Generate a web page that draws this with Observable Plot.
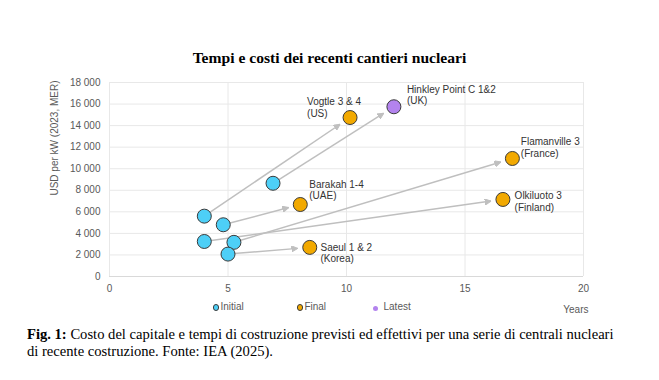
<!DOCTYPE html>
<html>
<head>
<meta charset="utf-8">
<script src="https://cdn.jsdelivr.net/npm/d3@7"></script>
<script src="https://cdn.jsdelivr.net/npm/@observablehq/plot@0.6"></script>
<style>
  html, body { margin: 0; padding: 0; background: #fff; }
  #wrap { position: relative; width: 659px; height: 380px; overflow: hidden; background: #fff; }
  #title { position: absolute; left: 0; top: 48px; width: 659px; text-align: center;
    font: bold 15.6px "Liberation Serif", serif; line-height: 20px; color: #000; }
  #chart { position: absolute; left: 0; top: 70px; }
  .leg { position: absolute; top: 300px; font: 10px "Liberation Sans", Arial, sans-serif; color: #595959; line-height: 14px; white-space: nowrap; }
  .leg i { display: inline-block; width: 5px; height: 5px; border-radius: 50%; margin-right: 1px; vertical-align: -0.5px; }
  #caption { position: absolute; left: 27px; top: 326px; width: 596px;
    font: 14.6px "Liberation Serif", serif; line-height: 17px; color: #000; }
</style>
</head>
<body>
<div id="wrap">
  <div id="title"></div>
  <div id="chart"></div>
  <div id="legend"></div>
  <div id="caption"></div>
</div>
<script>
// ---- data ----
const titleText = "Tempi e costi dei recenti cantieri nucleari";
const projects = ["Vogtle 3 & 4\n(US)", "Hinkley Point C 1&2\n(UK)", "Flamanville 3\n(France)", "Olkiluoto 3\n(Finland)", "Barakah 1-4\n(UAE)", "Saeul 1 & 2\n(Korea)"];
const initialYears = [4.0, 6.9, 5.25, 4.0, 4.8, 5.0];
const initialCost = [5600, 8650, 3170, 3250, 4800, 2080];
const finalYears = [10.15, 12.0, 17.0, 16.6, 8.05, 8.45];
const finalCost = [14750, 15750, 10950, 7150, 6680, 2700];
const finalType = ["Final", "Latest", "Final", "Final", "Final", "Final"];
const legendLabels = ["Initial", "Final", "Latest"];
const xTicks = [0, 5, 10, 15, 20];
const yTicks = [0, 2000, 4000, 6000, 8000, 10000, 12000, 14000, 16000, 18000];
const xLabel = "Years";
const yLabel = "USD per kW (2023, MER)";
const captionBold = "Fig. 1:";
const captionText = " Costo del capitale e tempi di costruzione previsti ed effettivi per una serie di centrali nucleari di recente costruzione. Fonte: IEA (2025).";

// ---- styles ----
const colors = { Initial: "#4dcff7", Final: "#f2a900", Latest: "#b383ee" };
const outline = "#3a3a3a";
const fmt = d => d3.format(",")(d).replace(/,/g, " ");

document.getElementById("title").textContent = titleText;
const cap = document.getElementById("caption");
const b = document.createElement("b"); b.textContent = captionBold;
cap.appendChild(b); cap.appendChild(document.createTextNode(captionText));

// legend
const legendPos = { Initial: 213, Final: 297, Latest: 372 };
const leg = document.getElementById("legend");
legendLabels.forEach(k => {
  const s = document.createElement("span");
  s.className = "leg";
  s.style.left = legendPos[k] + "px";
  const dot = document.createElement("i");
  dot.style.background = colors[k];
  if (k !== "Latest") { dot.style.border = "0.8px solid " + outline; dot.style.width = "4.4px"; dot.style.height = "4.4px"; }
  else { dot.style.marginRight = "6px"; dot.style.marginLeft = "0.5px"; }
  s.appendChild(dot);
  s.appendChild(document.createTextNode(k));
  leg.appendChild(s);
});

const idx = projects.map((_, i) => i);

function triangleMarker(color, context) {
  const doc = context && context.document ? context.document : document;
  const ns = "http://www.w3.org/2000/svg";
  const m = doc.createElementNS(ns, "marker");
  m.setAttribute("viewBox", "0 0 10 10");
  m.setAttribute("refX", "10");
  m.setAttribute("refY", "5");
  m.setAttribute("markerWidth", "4.2");
  m.setAttribute("markerHeight", "4.2");
  m.setAttribute("orient", "auto");
  const p = doc.createElementNS(ns, "path");
  p.setAttribute("d", "M0,0L10,5L0,10z");
  p.setAttribute("fill", color);
  m.appendChild(p);
  return m;
}

const insetEnd = 12;
function shortenEnd(index, scales, values, dimensions, context, next) {
  const { x1, y1, x2, y2 } = values;
  const nx = Float64Array.from(x2), ny = Float64Array.from(y2);
  for (const i of index) {
    const dx = x2[i] - x1[i], dy = y2[i] - y1[i], L = Math.hypot(dx, dy);
    nx[i] = x2[i] - dx / L * insetEnd;
    ny[i] = y2[i] - dy / L * insetEnd;
  }
  return next(index, scales, { ...values, x2: nx, y2: ny }, dimensions, context);
}

// label placement (offsets in px from the final point)
const labelOffsets = [
  { dx: -43, dy: -20.6 },
  { dx: 13, dy: -22 },
  { dx: 8.4, dy: -21.6 },
  { dx: 11.7, dy: -8.3 },
  { dx: 9, dy: -24.9 },
  { dx: 10.7, dy: -4.6 }
];

const chart = Plot.plot({
  width: 659,
  height: 250,
  marginTop: 12,
  marginBottom: 44,
  marginLeft: 109,
  marginRight: 76,
  style: { fontFamily: "'Liberation Sans', Arial, sans-serif", fontSize: "10px", color: "#595959", background: "white", overflow: "visible" },
  x: { domain: [0, 20], ticks: xTicks },
  y: { domain: [0, 18000], ticks: yTicks, tickFormat: fmt },
  marks: [
    Plot.gridY(yTicks, { stroke: "#e8e8e8", strokeOpacity: 1 }),
    Plot.gridX(xTicks, { stroke: "#e8e8e8", strokeOpacity: 1 }),
    Plot.ruleY([0], { stroke: "#d9d9d9", strokeWidth: 1.2 }),
    Plot.axisY({ ticks: yTicks, tickSize: 0, tickPadding: 9, tickFormat: fmt, label: null, fill: "#595959" }),
    Plot.axisX({ ticks: xTicks, tickSize: 0, tickPadding: 8, label: null, fill: "#595959" }),
    Plot.text([yLabel], { frameAnchor: "top-left", rotate: -90, textAnchor: "end", dx: -59, dy: -2, fill: "#595959", fontSize: 10 }),
    Plot.text([xLabel], { frameAnchor: "bottom-right", textAnchor: "end", lineAnchor: "middle", dx: 5, dy: 33.5, fill: "#595959", fontSize: 10 }),
    Plot.link(idx, {
      x1: i => initialYears[i], y1: i => initialCost[i],
      x2: i => finalYears[i], y2: i => finalCost[i],
      stroke: "#bfbfbf", strokeWidth: 1.5, markerEnd: triangleMarker, render: shortenEnd
    }),
    Plot.dot(idx, { x: i => initialYears[i], y: i => initialCost[i], r: 7, fill: colors.Initial, stroke: outline, strokeWidth: 1 }),
    Plot.dot(idx, { x: i => finalYears[i], y: i => finalCost[i], r: 7, fill: i => colors[finalType[i]], stroke: outline, strokeWidth: 1 }),
    ...idx.map(i => Plot.text([i], {
      x: j => finalYears[j], y: j => finalCost[j], text: j => projects[j],
      textAnchor: "start", lineAnchor: "top", lineHeight: 1.15,
      dx: labelOffsets[i].dx, dy: labelOffsets[i].dy, fill: "#333", fontSize: 10
    }))
  ]
});
document.getElementById("chart").appendChild(chart);
</script>
</body>
</html>
